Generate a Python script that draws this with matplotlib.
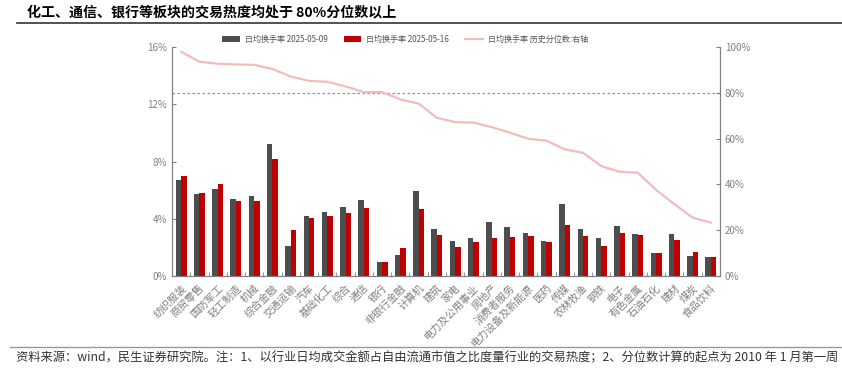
import matplotlib.pyplot as plt
import numpy as np

plt.rcParams['font.family'] = ['Noto Sans CJK SC', 'DejaVu Sans']

industries = ['纺织服装', '商贸零售', '国防军工', '轻工制造', '机械', '综合金融', '交通运输', '汽车',
              '基础化工', '综合', '通信', '银行', '非银行金融', '计算机', '建筑', '家电',
              '电力及公用事业', '房地产', '消费者服务', '电力设备及新能源', '医药', '传媒',
              '农林牧渔', '钢铁', '电子', '有色金属', '石油石化', '建材', '煤炭', '食品饮料']
turnover_0509 = [6.71, 5.73, 6.08, 5.41, 5.59, 9.21, 2.12, 4.20, 4.45, 4.85, 5.31, 0.96, 1.47, 5.94, 3.27,
                 2.47, 2.63, 3.78, 3.43, 3.01, 2.45, 5.01, 3.29, 2.63, 3.50, 2.94, 1.59, 2.91, 1.40, 1.35]
turnover_0516 = [6.99, 5.83, 6.43, 5.24, 5.27, 8.16, 3.19, 4.06, 4.22, 4.38, 4.76, 0.96, 1.98, 4.66, 2.87,
                 2.00, 2.35, 2.63, 2.73, 2.77, 2.35, 3.57, 2.80, 2.10, 2.98, 2.87, 1.63, 2.52, 1.66, 1.31]
percentile = [97.9, 93.6, 92.7, 92.4, 92.2, 90.4, 87.1, 85.2, 84.8, 82.8, 80.3, 80.3, 77.1, 75.3, 69.1,
              67.2, 67.0, 65.0, 62.6, 59.9, 59.1, 55.3, 53.8, 48.0, 45.5, 45.1, 37.6, 31.4, 25.5, 23.3]

gray = '#808080'
x = np.arange(len(industries))

fig = plt.figure(figsize=(8.42, 3.68), dpi=100)
ax = fig.add_axes([172 / 842, 1 - 276 / 368, 548 / 842, 229 / 368])
ax2 = ax.twinx()

w = 0.3
ax.bar(x - w / 2, turnover_0509, w, color='#4d4d4d', label='日均换手率 2025-05-09', zorder=3)
ax.bar(x + w / 2, turnover_0516, w, color='#c00000', label='日均换手率 2025-05-16', zorder=3)
ax2.plot(x, percentile, color='#f2bcbc', lw=1.6, label='日均换手率 历史分位数:右轴', zorder=2)
ax2.axhline(80, color='#909090', lw=0.9, ls=(0, (2, 2)), zorder=1)

ax.set_xlim(-0.5, len(industries) - 0.5)
ax.set_ylim(0, 16)
ax2.set_ylim(0, 100)
ax.set_yticks([0, 4, 8, 12, 16])
ax.set_yticklabels(['0%', '4%', '8%', '12%', '16%'])
ax2.set_yticks([0, 20, 40, 60, 80, 100])
ax2.set_yticklabels(['0%', '20%', '40%', '60%', '80%', '100%'])

ax.set_xticks(x)
ax.set_xticklabels(industries, rotation=45, ha='right', rotation_mode='anchor', fontsize=7.5, color=gray)
ax.set_xticks(np.arange(len(industries) + 1) - 0.5, minor=True)
ax.tick_params(axis='x', which='major', length=0, pad=5)
ax.tick_params(axis='x', which='minor', length=3, direction='in', color=gray)
ax.tick_params(axis='y', length=3, direction='in', labelsize=7, labelcolor=gray, color=gray)
ax2.tick_params(axis='y', length=3, direction='in', labelsize=7, labelcolor=gray, color=gray)

for a in (ax, ax2):
    a.spines['top'].set_visible(False)
    for s in ('left', 'right', 'bottom'):
        a.spines[s].set_color(gray)
        a.spines[s].set_linewidth(0.8)

h1, l1 = ax.get_legend_handles_labels()
h2, l2 = ax2.get_legend_handles_labels()
fig.legend(h1 + h2, l1 + l2, loc='center', bbox_to_anchor=(405 / 842, 1 - 39 / 368), ncol=3,
           frameon=False, fontsize=5.8, labelcolor='#555555', handlelength=2.2, handleheight=0.7,
           columnspacing=2.0, handletextpad=0.6)

fig.text(27 / 842, 1 - 12 / 368, '化工、通信、银行等板块的交易热度均处于 80%分位数以上',
         fontsize=10.1, fontweight='bold', va='center', ha='left')
fig.add_artist(plt.Line2D([17 / 842, 1], [1 - 23 / 368] * 2, color='#333333', lw=1.2))
fig.add_artist(plt.Line2D([10 / 842, 1], [1 - 347 / 368] * 2, color='#999999', lw=1))
fig.text(16 / 842, 1 - 358 / 368,
         '资料来源：wind，民生证券研究院。注：1、以行业日均成交金额占自由流通市值之比度量行业的交易热度；2、分位数计算的起点为 2010 年 1 月第一周',
         fontsize=8.85, va='center', ha='left', color='#333333')

plt.savefig('out.png', dpi=100)
